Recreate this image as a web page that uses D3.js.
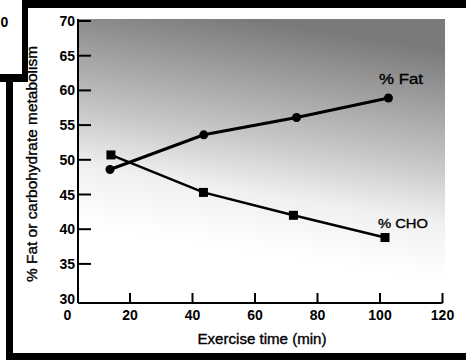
<!DOCTYPE html>
<html>
<head>
<meta charset="utf-8">
<script src="https://cdn.jsdelivr.net/npm/d3@7/dist/d3.min.js"></script>
<style>
  html, body { margin: 0; padding: 0; background: #fff; }
  svg { display: block; }
  text { font-family: "Liberation Sans", Arial, Helvetica, sans-serif; fill: #000; }
  .tick { font-weight: bold; }
  .title { font-weight: normal; stroke: #000; stroke-width: 0.35px; }
</style>
</head>
<body>
<svg id="chart" width="466" height="360"></svg>
<script>
// ---- data ----
const fatTime = [13.6, 43.6, 73.3, 102.7];
const fatPct  = [48.6, 53.6, 56.1, 58.9];
const choTime = [13.9, 43.5, 72.3, 101.6];
const choPct  = [50.7, 45.3, 42.0, 38.8];
const xTicks = [0, 20, 40, 60, 80, 100, 120];
const yTicks = [30, 35, 40, 45, 50, 55, 60, 65, 70];
const xTitle = "Exercise time (min)";
const yTitle = "% Fat or carbohydrate metabolism";
const fatLabel = "% Fat";
const choLabel = "% CHO";

// ---- layout ----
const W = 466, H = 360;
const svg = d3.select("#chart");
const axisLeft = 78, axisBottom = 303, plotRight = 445, plotTop = 19, axisRight = 442.5;

const x = d3.scaleLinear().domain([0, 120]).range([67.5, 442.5]);
const y = d3.scaleLinear().domain([30, 70]).range([298.6, 21]);

// ---- frame (scanned page border) ----
const frame = svg.append("g").attr("fill", "#000");
frame.append("rect").attr("x", 22).attr("y", 0).attr("width", W - 22).attr("height", 8);
frame.append("rect").attr("x", 22).attr("y", 0).attr("width", 6).attr("height", 82);
frame.append("rect").attr("x", 0).attr("y", 74).attr("width", 28).attr("height", 8);
frame.append("rect").attr("x", 6).attr("y", 74).attr("width", 7).attr("height", H - 74);
frame.append("rect").attr("x", 6).attr("y", 353).attr("width", W - 6).attr("height", 7);
svg.append("text").attr("class", "tick").attr("x", 0.5).attr("y", 27)
  .attr("font-size", 14).text("0");

// ---- stipple background (gradient) ----
const defs = svg.append("defs");
const grad = defs.append("linearGradient").attr("id", "stip")
  .attr("gradientUnits", "userSpaceOnUse")
  .attr("x1", 250).attr("y1", 250).attr("x2", 285).attr("y2", 25);
grad.append("stop").attr("offset", 0).attr("stop-color", "#ffffff");
grad.append("stop").attr("offset", 0.25).attr("stop-color", "#f0f0f0");
grad.append("stop").attr("offset", 0.5).attr("stop-color", "#c6c6c6");
grad.append("stop").attr("offset", 1).attr("stop-color", "#7a7a7a");
svg.append("rect").attr("x", axisLeft + 1).attr("y", plotTop)
  .attr("width", plotRight - axisLeft - 1).attr("height", axisBottom - plotTop - 1)
  .attr("fill", "url(#stip)");

// ---- axes ----
const ax = svg.append("g").attr("stroke", "#000").attr("stroke-width", 2).attr("fill", "none");
ax.append("line").attr("x1", axisLeft).attr("x2", axisLeft).attr("y1", plotTop).attr("y2", axisBottom);
ax.append("line").attr("x1", axisLeft).attr("x2", axisRight).attr("y1", axisBottom).attr("y2", axisBottom);

// y ticks (inward)
ax.selectAll(".yt").data(yTicks.filter(d => d > 30)).join("line")
  .attr("x1", axisLeft).attr("x2", axisLeft + 13)
  .attr("y1", d => y(d)).attr("y2", d => y(d));
// x ticks (inward)
ax.selectAll(".xt").data(xTicks.filter(d => d > 0)).join("line")
  .attr("x1", d => x(d)).attr("x2", d => x(d))
  .attr("y1", axisBottom).attr("y2", axisBottom - 10);

svg.append("g").selectAll("text").data(yTicks).join("text").attr("class", "tick")
  .attr("x", 75).attr("y", d => y(d)).attr("dy", "0.36em")
  .attr("text-anchor", "end").attr("font-size", 14).text(d => d);
svg.append("g").selectAll("text").data(xTicks).join("text").attr("class", "tick")
  .attr("x", d => x(d)).attr("y", 320)
  .attr("text-anchor", "middle").attr("font-size", 14).text(d => d);

svg.append("text").attr("class", "title").attr("x", 262).attr("y", 344).attr("text-anchor", "middle")
  .attr("font-size", 14)
  .attr("textLength", 129).attr("lengthAdjust", "spacingAndGlyphs").text(xTitle);
svg.append("text").attr("class", "title").attr("transform", "translate(37,164) rotate(-90)")
  .attr("text-anchor", "middle").attr("font-size", 14)
  .attr("textLength", 236).attr("lengthAdjust", "spacingAndGlyphs").text(yTitle);

// ---- series ----
const fat = fatTime.map((t, i) => [t, fatPct[i]]);
const cho = choTime.map((t, i) => [t, choPct[i]]);
const line = d3.line().x(d => x(d[0])).y(d => y(d[1]));

svg.append("path").datum(fat).attr("d", line)
  .attr("fill", "none").attr("stroke", "#000").attr("stroke-width", 3);
svg.append("path").datum(cho).attr("d", line)
  .attr("fill", "none").attr("stroke", "#000").attr("stroke-width", 2.5);

svg.append("g").selectAll("circle").data(fat).join("circle")
  .attr("cx", d => x(d[0])).attr("cy", d => y(d[1])).attr("r", 4.5).attr("fill", "#000");
svg.append("g").selectAll("rect").data(cho).join("rect")
  .attr("x", d => x(d[0]) - 4.5).attr("y", d => y(d[1]) - 4.5)
  .attr("width", 9).attr("height", 9).attr("fill", "#000");

svg.append("text").attr("class", "title").attr("x", 379).attr("y", 84).attr("font-size", 14)
  .attr("textLength", 44).attr("lengthAdjust", "spacingAndGlyphs").text(fatLabel);
svg.append("text").attr("class", "title").attr("x", 378).attr("y", 228).attr("font-size", 13)
  .attr("textLength", 50).attr("lengthAdjust", "spacingAndGlyphs").text(choLabel);
</script>
</body>
</html>
